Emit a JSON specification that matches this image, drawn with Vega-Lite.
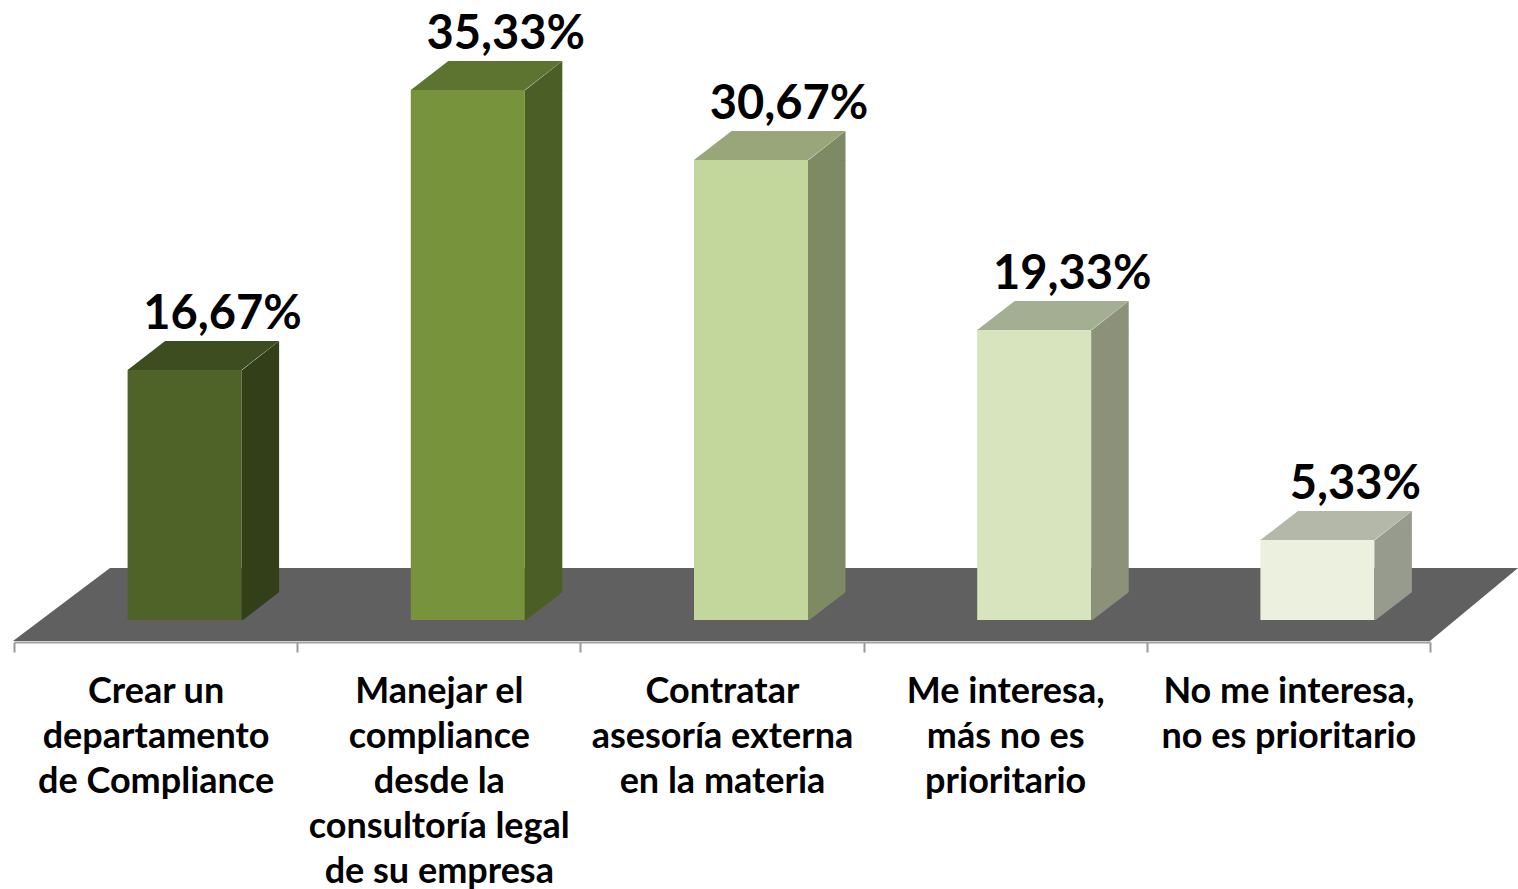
{
  "$schema": "https://vega.github.io/schema/vega-lite/v6.json",
  "width": 1416,
  "height": 642,
  "autosize": "none",
  "padding": {"left": 14, "right": 88, "top": 0, "bottom": 247},
  "background": "white",
  "config": {"view": {"stroke": null}},
  "data": {
    "values": [
      {"cat": "Crear un|departamento|de Compliance", "value": 16.67},
      {"cat": "Manejar el|compliance|desde la|consultoría legal|de su empresa", "value": 35.33},
      {"cat": "Contratar|asesoría externa|en la materia", "value": 30.67},
      {"cat": "Me interesa,|más no es|prioritario", "value": 19.33},
      {"cat": "No me interesa,|no es prioritario", "value": 5.33}
    ]
  },
  "transform": [
    {"calculate": "replace(format(datum.value, '.2f'), '.', ',') + '%'", "as": "label"}
  ],
  "encoding": {
    "x": {
      "field": "cat",
      "type": "nominal",
      "sort": null,
      "scale": {
        "domain": [
          "Crear un|departamento|de Compliance",
          "Manejar el|compliance|desde la|consultoría legal|de su empresa",
          "Contratar|asesoría externa|en la materia",
          "Me interesa,|más no es|prioritario",
          "No me interesa,|no es prioritario"
        ],
        "paddingInner": 0,
        "paddingOuter": 0
      },
      "axis": {
        "title": null,
        "labelAngle": 0,
        "labelExpr": "isString(datum.value) ? split(datum.value, '|') : ''",
        "labelFont": "Lato",
        "labelFontWeight": "bold",
        "labelFontSize": 36,
        "labelColor": "black",
        "labelLineHeight": 45,
        "labelBaseline": "alphabetic",
        "labelPadding": 50,
        "labelLimit": 0,
        "labelOverlap": false,
        "tickBand": "extent",
        "tickSize": 10,
        "tickColor": "#999999",
        "tickWidth": 2,
        "domainColor": "#a0a0a0",
        "domainWidth": 2,
        "grid": false,
        "zindex": 1
      }
    },
    "y": {
      "field": "value",
      "type": "quantitative",
      "scale": {"domain": [-1.4667, 41.3333], "nice": false, "zero": false},
      "axis": null
    }
  },
  "layer": [
    {
      "transform": [{"filter": {"field": "cat", "equal": "Contratar|asesoría externa|en la materia"}}],
      "mark": {"type": "point", "shape": "M -709 21 L 708 21 L 796 -52 L -612 -52 Z", "size": 4, "filled": true, "opacity": 1, "color": "#606060", "strokeWidth": 0},
      "encoding": {
        "y": {"datum": 0}
      }
    },
    {
      "mark": {"type": "bar", "width": 114, "xOffset": 29},
      "encoding": {
        "color": {
          "field": "cat", "type": "nominal", "legend": null, "sort": null,
          "scale": {"range": ["#4F6228", "#77933C", "#C3D69B", "#D7E4BD", "#EBF1DE"]}
        }
      }
    },
    {
      "mark": {"type": "bar", "width": 37.5, "xOffset": 104.75},
      "encoding": {
        "color": {
          "field": "cat", "type": "nominal", "legend": null, "sort": null,
          "scale": {"range": ["#333F19", "#4B5E25", "#7D8A63", "#8B9279", "#979B8E"]}
        }
      }
    },
    {
      "mark": {"type": "point", "shape": "M 86 0.5 L 123.5 -29 L 123.5 0.5 Z", "size": 4, "filled": true, "opacity": 1, "strokeWidth": 0},
      "encoding": {
        "color": {
          "field": "cat", "type": "nominal", "legend": null, "sort": null,
          "scale": {"range": ["#333F19", "#4B5E25", "#7D8A63", "#8B9279", "#979B8E"]}
        }
      }
    },
    {
      "mark": {"type": "point", "shape": "M 86 1 L 125 1 L 125 -29 Z", "size": 4, "filled": true, "opacity": 1, "color": "#606060", "strokeWidth": 0},
      "encoding": {
        "y": {"datum": 0}
      }
    },
    {
      "mark": {"type": "point", "shape": "M -28 0 L 86 0 L 123.5 -29 L 9.5 -29 Z", "size": 4, "filled": true, "opacity": 1, "strokeWidth": 0},
      "encoding": {
        "color": {
          "field": "cat", "type": "nominal", "legend": null, "sort": null,
          "scale": {"range": ["#3E4D1F", "#5D7430", "#98A67A", "#A3AE92", "#B4B8A9"]}
        }
      }
    },
    {
      "mark": {"type": "text", "dx": 67, "dy": -41, "baseline": "alphabetic", "align": "center", "font": "Lato", "fontWeight": "bold", "fontSize": 47, "color": "black"},
      "encoding": {
        "text": {"field": "label"}
      }
    }
  ],
  "resolve": {"scale": {"color": "independent"}}
}
